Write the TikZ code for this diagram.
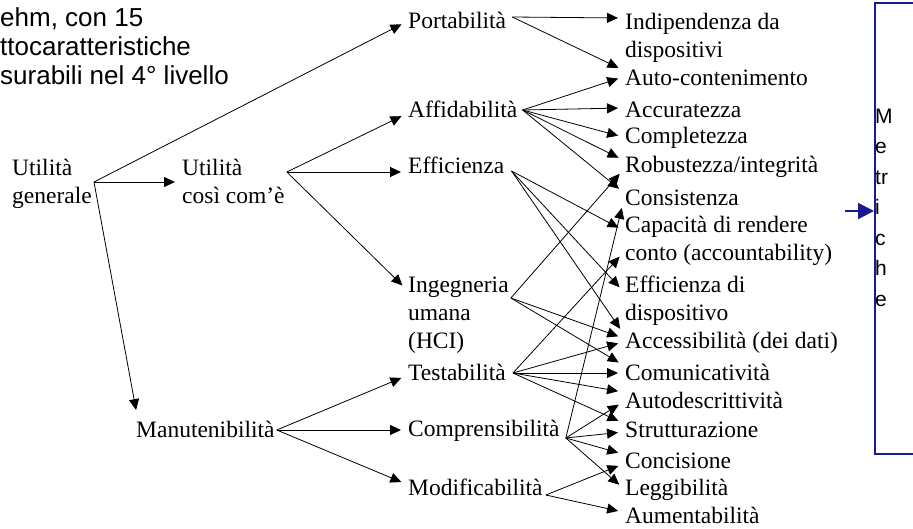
\documentclass[tikz,border=0pt]{standalone}
\usepackage{fontspec}
\setmainfont{Liberation Serif}
\newfontfamily\arialfont{Liberation Sans}
\usetikzlibrary{arrows.meta, positioning, calc}
\def\colmid{406}
\def\colright{623}
\newcommand{\qfont}{\fontsize{23.5}{28}\selectfont}
\definecolor{metblue}{RGB}{25,25,145}
\tikzstyle{qual}=[font=\qfont, inner sep=2pt, anchor=base west, align=left]
\tikzstyle{link}=[-{Triangle[length=11pt,width=10pt]}, line width=0.8pt, shorten >=5pt]
\tikzstyle{metbox}=[draw=metblue, line width=1.6pt, anchor=north west, minimum width=80pt, minimum height=451pt]
\tikzstyle{metric}=[font=\arialfont\fontsize{21}{30.5}\selectfont, anchor=base west, align=left, inner sep=0pt]
\tikzstyle{metarrow}=[-{Triangle[length=16pt,width=16pt]}, draw=metblue, fill=metblue, line width=2pt]

\begin{document}
\begin{tikzpicture}[x=1pt, y=-1pt]
        \useasboundingbox (0,0) rectangle (913,528);

        % nota in alto a sinistra (tagliata)
        \node[metric, font=\arialfont\fontsize{26}{29}\selectfont] (nota) at (0,84) {ehm, con 15\\ttocaratteristiche\\surabili nel 4° livello};

        % livelli 1-2 (base = ultima riga)
        \node[qual] (ugen) at (10,203) {Utilità\\generale};
        \node[qual] (ucos) at (180,203) {Utilità\\così com’è};
        \node[qual] (man) at (134,437) {Manutenibilità};

        % livello 3
        \node[qual] (port) at (\colmid,28) {Portabilità};
        \node[qual] (aff) at (\colmid,117) {Affidabilità};
        \node[qual] (eff) at (\colmid,173) {Efficienza};
        \node[qual] (ing) at (\colmid,348) {Ingegneria\\umana\\(HCI)};
        \node[qual] (test) at (\colmid,380) {Testabilità};
        \node[qual] (comp) at (\colmid,436) {Comprensibilità};
        \node[qual] (mod) at (\colmid,495) {Modificabilità};

        % livello 4
        \node[qual] (ind) at (\colright,57) {Indipendenza da\\dispositivi};
        \node[qual] (auto) at (\colright,85) {Auto-contenimento};
        \node[qual] (acc) at (\colright,117) {Accuratezza};
        \node[qual] (compl) at (\colright,143) {Completezza};
        \node[qual] (rob) at (\colright,172) {Robustezza/integrità};
        \node[qual] (cons) at (\colright,205) {Consistenza};
        \node[qual] (cap) at (\colright,260) {Capacità di rendere\\conto (accountability)};
        \node[qual] (effd) at (\colright,320) {Efficienza di\\dispositivo};
        \node[qual] (accs) at (\colright,348) {Accessibilità (dei dati)};
        \node[qual] (comu) at (\colright,380) {Comunicatività};
        \node[qual] (autod) at (\colright,408) {Autodescrittività};
        \node[qual] (strut) at (\colright,437) {Strutturazione};
        \node[qual] (conc) at (\colright,468) {Concisione};
        \node[qual] (legg) at (\colright,495) {Leggibilità};
        \node[qual] (aum) at (\colright,523) {Aumentabilità};

        % metriche
        \node[metbox] (met) at (874,2) {};
        \node[metric] (mettxt) at (875,306) {M\\e\\tr\\i\\c\\h\\e};
        \coordinate (metin) at (845,211);
        \draw[metarrow] (metin) -- (metin -| met.west);

        % punti di partenza
        \coordinate (ugenO) at ([yshift=21pt]ugen.base east);
        \coordinate (ucosO) at ([yshift=31pt]ucos.base east);
        \coordinate (manO) at ([yshift=7pt]man.base east);
        \coordinate (portO) at ([shift={(4pt,11pt)}]port.base east);
        \coordinate (affO) at ([shift={(3pt,7pt)}]aff.base east);
        \coordinate (effO) at ([shift={(5pt,2pt)}]eff.base east);
        \coordinate (ingO) at ([yshift=50pt]ing.base east);
        \coordinate (testO) at ([shift={(5pt,7pt)}]test.base east);
        \coordinate (compO) at ([shift={(4pt,-2pt)}]comp.base east);
        \coordinate (modO) at ([shift={(1pt,0pt)}]mod.base east);

        \path
        (ugenO) edge[link] ([yshift=6pt]port.base west)
        (ugenO) edge[link] ([yshift=21pt]ucos.base west)
        (ugenO) edge[link] ([shift={(3pt,22pt)}]man.base west)
        (ucosO) edge[link] ([yshift=3pt]aff.base west)
        (ucosO) edge[link] ([yshift=1pt]eff.base west)
        (ucosO) edge[link] ([yshift=59pt]ing.base west)
        (manO) edge[link] ([yshift=4pt]test.base west)
        (manO) edge[link] ([yshift=6pt]comp.base west)
        (manO) edge[link] ([yshift=11pt]mod.base west);

        \path
        (portO) edge[link] ([yshift=39pt]ind.base west)
        (portO) edge[link] ([yshift=15pt]auto.base west)
        (affO) edge[link] ([yshift=8pt]auto.base west)
        (affO) edge[link] ([yshift=9pt]acc.base west)
        (affO) edge[link] ([yshift=6pt]compl.base west)
        (affO) edge[link] ([yshift=12pt]rob.base west)
        (affO) edge[link] ([yshift=13pt]cons.base west)
        (effO) edge[link] ([yshift=30pt]cap.base west)
        (effO) edge[link] ([yshift=29pt]effd.base west)
        (effO) edge[link] ([yshift=15pt]accs.base west)
        (ingO) edge[link] ([yshift=2pt]rob.base west)
        (ingO) edge[link] ([yshift=10pt]accs.base west)
        (ingO) edge[link] ([yshift=15pt]comu.base west)
        (testO) edge[link] ([yshift=7pt]cap.base west)
        (testO) edge[link] ([yshift=6pt]accs.base west)
        (testO) edge[link] ([yshift=7pt]comu.base west)
        (testO) edge[link] ([yshift=16pt]autod.base west)
        (testO) edge[link] ([yshift=14pt]strut.base west)
        (compO) edge[link] ([yshift=2pt]cons.base west)
        (compO) edge[link] ([yshift=6pt]autod.base west)
        (compO) edge[link] ([yshift=5pt]strut.base west)
        (compO) edge[link] ([yshift=14pt]conc.base west)
        (compO) edge[link] ([yshift=7pt]legg.base west)
        (modO) edge[link] ([yshift=4pt]conc.base west)
        (modO) edge[link] ([yshift=11pt]aum.base west);
\end{tikzpicture}
\end{document}
